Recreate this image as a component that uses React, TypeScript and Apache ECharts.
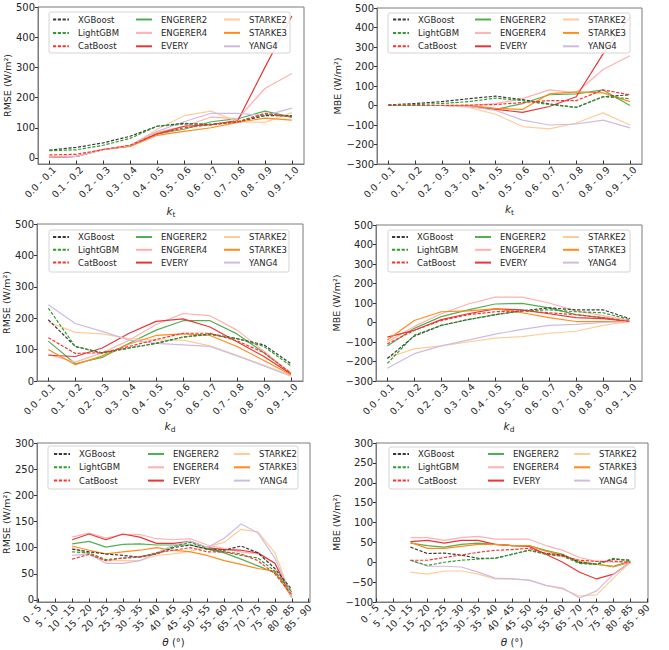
import { useEffect, useRef } from "react";
import * as echarts from "echarts";

const FONT = "DejaVu Sans";
const TEXT = "#262626";
const FRAME = "#7a7a7a";

const MODELS = ["XGBoost", "LightGBM", "CatBoost", "ENGERER2", "ENGERER4", "EVERY", "STARKE2", "STARKE3", "YANG4"];

const K_LABELS = ["0.0 - 0.1", "0.1 - 0.2", "0.2 - 0.3", "0.3 - 0.4", "0.4 - 0.5", "0.5 - 0.6", "0.6 - 0.7", "0.7 - 0.8", "0.8 - 0.9", "0.9 - 1.0"];
// 原图标签里就缺了 60 - 65
const THETA_LABELS = ["0 - 5", "5 - 10", "10 - 15", "15 - 20", "20 - 25", "25 - 30", "30 - 35", "35 - 40", "40 - 45", "45 - 50", "50 - 55", "55 - 60", "65 - 70", "70 - 75", "75 - 80", "80 - 85", "85 - 90"];
const THETA_START = 2; // 数据从 10 - 15 开始

// 每行一个模型，顺序同 MODELS
const RMSE_KT: number[][] = [
  [26, 35, 50, 72, 105, 115, 110, 120, 140, 140],
  [24, 27, 42, 65, 105, 112, 112, 120, 145, 138],
  [10, 12, 28, 42, 80, 100, 110, 120, 148, 135],
  [3, 5, 28, 40, 80, 95, 120, 130, 155, 135],
  [3, 5, 28, 40, 85, 105, 135, 130, 230, 280],
  [2, 5, 28, 40, 80, 105, 110, 125, 300, 470],
  [5, 5, 28, 40, 95, 140, 155, 120, 118, 150],
  [3, 5, 28, 38, 75, 88, 100, 118, 132, 125],
  [3, 5, 28, 42, 88, 120, 148, 148, 140, 165],
];
const MBE_KT: number[][] = [
  [3, 10, 20, 35, 48, 30, 8, -10, 45, 55],
  [2, 5, 10, 20, 38, 25, 5, -10, 45, 35],
  [0, 0, 0, 2, 5, 15, 25, 25, 80, 55],
  [0, 0, 0, 0, -20, 10, 55, 60, 80, 0],
  [0, 0, 0, 0, 10, 35, 80, 65, 185, 255],
  [0, 0, 0, -5, -20, -35, -5, 45, 265, 455],
  [0, 0, 0, -10, -45, -108, -120, -90, -38, -100],
  [0, 0, 0, 0, -15, -20, 60, 70, 65, 20],
  [0, 0, 0, -5, -25, -75, -100, -95, -75, -115],
];
const RMSE_KD: number[][] = [
  [195, 110, 90, 105, 120, 140, 150, 135, 115, 55],
  [232, 110, 88, 105, 120, 140, 148, 135, 110, 48],
  [138, 88, 90, 110, 132, 152, 152, 128, 90, 25],
  [127, 55, 75, 120, 162, 192, 192, 150, 90, 25],
  [85, 60, 90, 130, 180, 215, 208, 162, 95, 25],
  [82, 78, 105, 152, 190, 198, 172, 125, 78, 22],
  [188, 155, 150, 135, 130, 130, 112, 82, 50, 18],
  [100, 52, 80, 118, 145, 150, 145, 110, 65, 20],
  [243, 183, 158, 130, 120, 115, 110, 80, 48, 15],
];
const MBE_KD: number[][] = [
  [-185, -70, -15, 15, 40, 60, 75, 65, 65, 20],
  [-210, -65, -15, 15, 40, 60, 65, 55, 50, 15],
  [-110, -40, 10, 40, 55, 60, 50, 40, 25, 5],
  [-120, -30, 30, 65, 95, 98, 75, 40, 25, 5],
  [-100, -20, 45, 95, 130, 130, 100, 60, 35, 10],
  [-75, -40, 15, 45, 70, 65, 45, 25, 20, 5],
  [-180, -135, -120, -100, -80, -72, -55, -45, -15, 5],
  [-90, 10, 55, 60, 70, 50, 25, 5, 5, 5],
  [-235, -160, -120, -90, -60, -35, -15, -10, 0, 5],
];
const RMSE_THETA: number[][] = [
  [97, 92, 88, 85, 82, 88, 100, 105, 97, 95, 103, 90, 60, 20],
  [92, 90, 77, 80, 82, 88, 102, 110, 98, 92, 85, 80, 55, 15],
  [78, 87, 75, 80, 82, 90, 95, 100, 92, 92, 88, 75, 50, 10],
  [107, 112, 101, 106, 107, 105, 105, 105, 97, 90, 78, 65, 52, 15],
  [120, 128, 118, 125, 125, 117, 115, 117, 105, 98, 92, 88, 70, 10],
  [115, 126, 115, 126, 120, 108, 108, 112, 100, 96, 95, 90, 70, 5],
  [100, 88, 75, 75, 75, 85, 88, 93, 102, 110, 135, 130, 90, 5],
  [103, 95, 88, 92, 95, 100, 95, 92, 85, 75, 68, 60, 55, 5],
  [85, 88, 70, 70, 75, 90, 105, 112, 100, 118, 145, 128, 80, 5],
];
const MBE_THETA: number[][] = [
  [38, 22, 23, 18, 10, 10, 20, 30, 22, 18, 0, -5, 8, 5],
  [5, -8, 0, 5, 8, 10, 20, 30, 20, 15, -3, -5, 10, 3],
  [5, 5, 12, 18, 25, 30, 32, 35, 22, 15, 5, 2, 3, 0],
  [48, 42, 38, 45, 48, 45, 42, 42, 30, 20, -2, -5, -10, 3],
  [62, 62, 55, 62, 65, 58, 58, 58, 42, 30, 12, 2, 0, 0],
  [52, 55, 48, 55, 55, 45, 42, 40, 20, 0, -25, -42, -30, 0],
  [-25, -30, -22, -22, -30, -42, -42, -45, -58, -68, -85, -82, -40, 0],
  [50, 35, 35, 40, 45, 45, 42, 42, 28, 18, 2, -5, -12, 0],
  [5, -10, -10, -12, -25, -40, -42, -45, -58, -65, -90, -72, -30, 0],
];

const RMSE_TICKS_500 = [0, 100, 200, 300, 400, 500];
const MBE_TICKS_500 = [-300, -200, -100, 0, 100, 200, 300, 400, 500];
const RMSE_TICKS_300 = [0, 50, 100, 150, 200, 250, 300];
const MBE_TICKS_300 = [-100, -50, 0, 50, 100, 150, 200, 250, 300];

// 线型：前三个是机器学习模型（虚线）
const LINE_STYLES = [
  { color: "#3a3a3a", dashed: true },
  { color: "#2f9e2f", dashed: true },
  { color: "#ff3030", dashed: true },
  { color: "#52b052", dashed: false },
  { color: "#ffb0b0", dashed: false },
  { color: "#e83636", dashed: false },
  { color: "#ffcc99", dashed: false },
  { color: "#ff8c1a", dashed: false },
  { color: "#cfbbe2", dashed: false },
];

type PanelDef = {
  data: number[][];
  labels: string[];
  start: number;
  xRange: [number, number];
  yRange: [number, number];
  yTicks: number[];
  yName: string;
  xName: string;
};

const PANELS: PanelDef[] = [
  { data: RMSE_KT, labels: K_LABELS, start: 0, xRange: [-0.42, 9.45], yRange: [-20, 500], yTicks: RMSE_TICKS_500, yName: "RMSE (W/m²)", xName: "{i|k}{s|t}" },
  { data: MBE_KT, labels: K_LABELS, start: 0, xRange: [-0.42, 9.45], yRange: [-300, 500], yTicks: MBE_TICKS_500, yName: "MBE (W/m²)", xName: "{i|k}{s|t}" },
  { data: RMSE_KD, labels: K_LABELS, start: 0, xRange: [-0.42, 9.45], yRange: [0, 500], yTicks: RMSE_TICKS_500, yName: "RMSE (W/m²)", xName: "{i|k}{s|d}" },
  { data: MBE_KD, labels: K_LABELS, start: 0, xRange: [-0.42, 9.45], yRange: [-300, 500], yTicks: MBE_TICKS_500, yName: "MBE (W/m²)", xName: "{i|k}{s|d}" },
  { data: RMSE_THETA, labels: THETA_LABELS, start: THETA_START, xRange: [-0.08, 16.08], yRange: [-4, 300], yTicks: RMSE_TICKS_300, yName: "RMSE (W/m²)", xName: "{i|θ} (°)" },
  { data: MBE_THETA, labels: THETA_LABELS, start: THETA_START, xRange: [-0.04, 16.04], yRange: [-100, 300], yTicks: MBE_TICKS_300, yName: "MBE (W/m²)", xName: "{i|θ} (°)" },
];

// 版面（像素）
const LAYOUT = [
  { grid: [38, 7, 266, 157], yGap: 24, xGap: 40, cols: [52, 135, 223], row1: 19.5, rowStep: 13.4, frame: [49, 12, 241, 41] },
  { grid: [377, 8, 265, 156], yGap: 31, xGap: 38, cols: [392, 474, 562], row1: 19.5, rowStep: 13.4, frame: [388, 13, 242, 40] },
  { grid: [37, 224, 266, 157], yGap: 24, xGap: 38, cols: [52, 135, 223], row1: 237, rowStep: 12.8, frame: [49, 230, 240, 42] },
  { grid: [376, 225, 266, 156], yGap: 31, xGap: 38, cols: [391, 474, 562], row1: 237, rowStep: 12.8, frame: [388, 230, 242, 42] },
  { grid: [37, 443, 273, 159], yGap: 24, xGap: 33, cols: [53, 147, 233], row1: 454, rowStep: 13.3, frame: [48, 446, 250, 43] },
  { grid: [376, 443, 272, 159], yGap: 32, xGap: 33, cols: [392, 487, 573], row1: 454, rowStep: 13.3, frame: [389, 447, 246, 42] },
];
const LABEL_SHIFT_PX = 5; // matplotlib 的斜标签略偏在刻度右侧

const fmtY = (v: number) => (v < 0 ? `\u2212${Math.abs(v)}` : `${v}`);

function buildOption() {
  const grid: any[] = [];
  const xAxis: any[] = [];
  const yAxis: any[] = [];
  const series: any[] = [];
  const legend: any[] = [];
  const graphic: any[] = [];

  PANELS.forEach((p, pi) => {
    const L = LAYOUT[pi];
    const [gl, gt, gw, gh] = L.grid;
    grid.push({ left: gl, top: gt, width: gw, height: gh, show: true, borderColor: FRAME, borderWidth: 1, backgroundColor: "transparent" });
    const xTicks = p.labels.map((_, i) => i);
    const lastTick = xTicks[xTicks.length - 1];
    // 标签整体右移几像素，但最后一个标签不能超出轴范围，否则会被丢掉
    const shift = Math.min((LABEL_SHIFT_PX * (p.xRange[1] - p.xRange[0])) / gw, (p.xRange[1] - lastTick) * 0.8);
    const labelPos = xTicks.map((i) => i + shift);
    xAxis.push({
      type: "value",
      gridIndex: pi,
      min: p.xRange[0],
      max: p.xRange[1],
      name: p.xName,
      nameLocation: "middle",
      nameGap: L.xGap,
      nameTextStyle: {
        color: TEXT,
        fontSize: 10,
        fontFamily: FONT,
        rich: {
          i: { fontStyle: "italic", fontSize: 10.5, fontFamily: FONT, color: TEXT, lineHeight: 14 },
          s: { fontSize: 7.5, fontFamily: FONT, color: TEXT, verticalAlign: "bottom", lineHeight: 14, padding: [5, 0, 0, 0] },
        },
      },
      splitLine: { show: false },
      axisLine: { show: true, onZero: false, lineStyle: { color: FRAME, width: 1 } },
      axisTick: { show: true, inside: true, length: 3.5, lineStyle: { color: "#333" }, customValues: xTicks },
      axisLabel: {
        customValues: labelPos,
        rotate: 45,
        margin: 4,
        fontSize: 9.5,
        fontFamily: FONT,
        color: TEXT,
        formatter: (v: number) => p.labels[Math.round(v - shift)] ?? "",
      },
    });
    yAxis.push({
      type: "value",
      gridIndex: pi,
      min: p.yRange[0],
      max: p.yRange[1],
      name: p.yName,
      nameLocation: "middle",
      nameGap: L.yGap,
      nameRotate: 90,
      nameTextStyle: { color: TEXT, fontSize: 9.5, fontFamily: FONT },
      splitLine: { show: false },
      axisLine: { show: true, onZero: false, lineStyle: { color: FRAME, width: 1 } },
      axisTick: { show: true, inside: false, length: 3, lineStyle: { color: "#333" }, customValues: p.yTicks },
      axisLabel: { customValues: p.yTicks, margin: 3, fontSize: 10, fontFamily: FONT, color: TEXT, formatter: fmtY },
    });

    p.data.forEach((vals, si) => {
      const st = LINE_STYLES[si];
      series.push({
        name: MODELS[si],
        type: "line",
        xAxisIndex: pi,
        yAxisIndex: pi,
        data: vals.map((v, i) => [p.start + i, v]),
        symbol: "none",
        silent: true,
        z: st.dashed ? 3 : 2,
        lineStyle: { color: st.color, width: 1.2, type: st.dashed ? [3.2, 1.6] : "solid" },
        itemStyle: { color: st.color },
      });
    });

    const [fx, fy, fw, fh] = L.frame;
    graphic.push({
      type: "rect",
      z: 4,
      shape: { x: fx, y: fy, width: fw, height: fh, r: 2 },
      style: { fill: "rgba(255,255,255,0.85)", stroke: "#d4d4d4", lineWidth: 1 },
    });
    L.cols.forEach((cx, ci) => {
      legend.push({
        orient: "vertical",
        left: cx,
        top: L.row1 - 5,
        padding: 0,
        itemGap: L.rowStep - 10,
        itemWidth: 16,
        itemHeight: 8,
        selectedMode: false,
        z: 6,
        itemStyle: { opacity: 0 },
        data: MODELS.slice(ci * 3, ci * 3 + 3),
        textStyle: { fontSize: 8.5, fontFamily: FONT, color: TEXT, lineHeight: 10, padding: [0, 0, 0, 4] },
      });
    });
  });

  return {
    animation: false,
    backgroundColor: "#ffffff",
    textStyle: { fontFamily: FONT },
    grid,
    xAxis,
    yAxis,
    legend,
    graphic,
    series,
  };
}

export default function App() {
  const elRef = useRef<HTMLDivElement>(null);

  useEffect(() => {
    const el = elRef.current;
    if (!el) return;
    const chart = echarts.init(el, undefined, { renderer: "svg" });
    chart.setOption(buildOption());
    return () => chart.dispose();
  }, []);

  return <div ref={elRef} style={{ position: "absolute", left: 0, top: 0, width: 669, height: 650, background: "#fff" }} />;
}
